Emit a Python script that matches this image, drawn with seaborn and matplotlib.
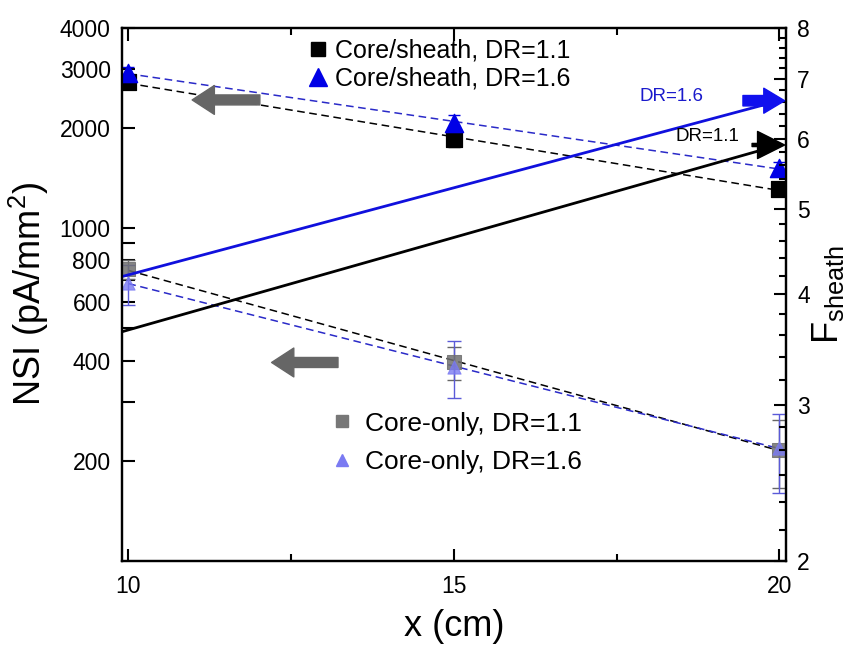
import numpy as np
import pandas as pd
import matplotlib
matplotlib.use('Agg')
import matplotlib.pyplot as plt
import seaborn as sns
from matplotlib.lines import Line2D
from matplotlib.ticker import FixedLocator, FixedFormatter, NullFormatter

'''
数据 (从图中读取)
'''
x_pos = [10, 15, 20]
# core/sheath NSI (左轴)
cs_11 = [2750, 1850, 1310]
cs_11_err = [90, 90, 60]
cs_16 = [2930, 2070, 1515]
cs_16_err = [120, 120, 70]
# core-only NSI (左轴)
co_11 = [752, 395, 216]
co_11_err = [48, 45, 50]
co_16 = [683, 384, 218]
co_16_err = [95, 75, 58]
# F_sheath (右轴)
f_x = [9.9, 20]
f_11 = [3.63, 5.9]
f_16 = [4.19, 6.62]

left_ticks = [200, 300, 400, 500, 600, 700, 800, 900, 1000, 2000, 3000, 4000]
left_labels = ['200', '', '400', '', '600', '', '800', '', '1000', '2000', '3000', '4000']

sns.set_style('ticks')
plt.rcParams['font.family'] = ['Liberation Sans', 'DejaVu Sans']
plt.rcParams['mathtext.fontset'] = 'custom'
plt.rcParams['mathtext.rm'] = 'Liberation Sans'
plt.rcParams['mathtext.it'] = 'Liberation Sans:italic'
plt.rcParams['text.color'] = 'black'
plt.rcParams['axes.labelcolor'] = 'black'
plt.rcParams['xtick.color'] = 'black'
plt.rcParams['ytick.color'] = 'black'
plt.rcParams['axes.edgecolor'] = 'black'

fig = plt.figure(figsize=(8.58, 6.49), dpi=100)
ax = fig.add_axes([0.142, 0.1356, 0.774, 0.8214])
ax2 = ax.twinx()


def exp_fit(xs, ys):
    # 指数拟合 (半对数坐标下是直线)
    k, b = np.polyfit(xs, np.log(ys), 1)
    xf = np.linspace(10, 20, 50)
    return xf, np.exp(k * xf + b)


# 拟合虚线
for ys, col in [(cs_11, 'black'), (cs_16, '#2a2ac8'), (co_11, 'black'), (co_16, '#2a2ac8')]:
    xf, yf = exp_fit(x_pos, ys)
    sns.lineplot(x=xf, y=yf, ax=ax, color=col, lw=1.1, linestyle=(0, (5, 3)), zorder=2)

# 误差棒
ax.errorbar(x_pos, cs_11, yerr=cs_11_err, fmt='none', ecolor='black', elinewidth=1, capsize=4, zorder=3)
ax.errorbar(x_pos, cs_16, yerr=cs_16_err, fmt='none', ecolor='#0000e0', elinewidth=1, capsize=4, zorder=3)
ax.errorbar(x_pos, co_11, yerr=co_11_err, fmt='none', ecolor='#666666', elinewidth=1, capsize=5, zorder=3)
ax.errorbar(x_pos, co_16, yerr=co_16_err, fmt='none', ecolor='#5a5ad8', elinewidth=1, capsize=5, zorder=3)

# 数据点
sns.scatterplot(x=x_pos, y=cs_11, ax=ax, marker='s', s=120, color='black', edgecolor='black', zorder=4)
sns.scatterplot(x=x_pos, y=cs_16, ax=ax, marker='^', s=170, color='#0000e6', edgecolor='#0000e6', zorder=5)
sns.scatterplot(x=x_pos, y=co_11, ax=ax, marker='s', s=90, color='#707070', edgecolor='#707070', alpha=0.85, zorder=4)
sns.scatterplot(x=x_pos, y=co_16, ax=ax, marker='^', s=90, color='#7a7af2', edgecolor='#7a7af2', alpha=0.8, zorder=5)

# 左侧灰色箭头
for x0, x1, yv in [(12.02, 10.98, 2430), (13.22, 12.2, 395)]:
    ax.annotate('', xy=(x1, yv), xytext=(x0, yv),
                arrowprops=dict(arrowstyle='simple,head_length=1.0,head_width=1.3,tail_width=0.45',
                                color='#666666', shrinkA=0, shrinkB=0, mutation_scale=16))

ax.set_yscale('log')
ax.set_ylim(100, 4000)
ax.set_xlim(9.9, 20.1)
ax.yaxis.set_major_locator(FixedLocator(left_ticks))
ax.yaxis.set_major_formatter(FixedFormatter(left_labels))
ax.yaxis.set_minor_locator(FixedLocator([]))
ax.set_xticks([10, 15, 20])
ax.xaxis.set_minor_locator(FixedLocator([12.5, 17.5]))

# 右轴 F_sheath
sns.lineplot(x=f_x, y=f_11, ax=ax2, color='black', lw=2)
sns.lineplot(x=f_x, y=f_16, ax=ax2, color='#1010dd', lw=2)
ax2.annotate('', xy=(20.08, f_11[1]), xytext=(19.58, f_11[1]),
             arrowprops=dict(arrowstyle='simple,head_length=1.3,head_width=1.3,tail_width=0.15',
                             color='black', shrinkA=0, shrinkB=0, mutation_scale=15))
ax2.annotate('', xy=(20.08, f_16[1]), xytext=(19.44, f_16[1]),
             arrowprops=dict(arrowstyle='simple,head_length=1.0,head_width=1.2,tail_width=0.5',
                             color='#1010ee', shrinkA=0, shrinkB=0, mutation_scale=15))
ax2.text(18.9, 5.9, 'DR=1.1', fontsize=13.5, color='black', ha='center', va='bottom')
ax2.text(18.35, 6.55, 'DR=1.6', fontsize=13.5, color='#1a1acc', ha='center', va='bottom')

ax2.set_yscale('log')
ax2.set_ylim(2, 8)
ax2.yaxis.set_major_locator(FixedLocator([2, 3, 4, 5, 6, 7, 8]))
ax2.yaxis.set_major_formatter(FixedFormatter(['2', '3', '4', '5', '6', '7', '8']))
minor_r = [2 + k / 6 for k in range(1, 6)] + [v / 10 for v in range(32, 80, 2) if v % 10 != 0]
ax2.yaxis.set_minor_locator(FixedLocator(minor_r))
ax2.yaxis.set_minor_formatter(NullFormatter())

# 坐标轴样式
for a in (ax, ax2):
    for sp in a.spines.values():
        sp.set_linewidth(1.6)
        sp.set_visible(True)
ax.tick_params(axis='both', which='major', direction='in', length=9, width=1.5, labelsize=16.5, pad=8)
ax.tick_params(axis='x', which='major', top=True, bottom=True, pad=10)
ax.tick_params(axis='x', which='minor', direction='in', length=5, width=1.5, top=True, bottom=True)
ax.tick_params(axis='y', which='both', right=False)
ax2.tick_params(axis='y', which='major', direction='in', length=9, width=1.5, labelsize=16.5, pad=8)
ax2.tick_params(axis='y', which='minor', direction='in', length=5, width=1.5)

ax.set_xlabel('x (cm)', fontsize=26, labelpad=8)
ax.set_ylabel('NSI (pA/mm$^2$)', fontsize=26, labelpad=6)
ax2.set_ylabel('F$_{\\mathrm{sheath}}$', fontsize=26, labelpad=0)

# 图例
h_top = [Line2D([], [], marker='s', color='black', ls='none', markersize=10),
         Line2D([], [], marker='^', color='#0000e6', ls='none', markersize=13)]
leg1 = ax.legend(h_top, ['Core/sheath, DR=1.1', 'Core/sheath, DR=1.6'],
                 loc='upper left', bbox_to_anchor=(0.28, 0.98), frameon=False, fontsize=18,
                 handlelength=0.8, handletextpad=0.3, labelspacing=0.15, borderpad=0, borderaxespad=0)
ax.add_artist(leg1)
h_bot = [Line2D([], [], marker='s', color='#777777', ls='none', markersize=8),
         Line2D([], [], marker='^', color='#7a7af2', ls='none', markersize=8)]
ax.legend(h_bot, ['Core-only, DR=1.1', 'Core-only, DR=1.6'],
          loc='upper left', bbox_to_anchor=(0.315, 0.28), frameon=False, fontsize=19,
          handlelength=0.8, handletextpad=0.5, labelspacing=0.55, borderpad=0, borderaxespad=0)

fig.savefig('out.png', dpi=100)
